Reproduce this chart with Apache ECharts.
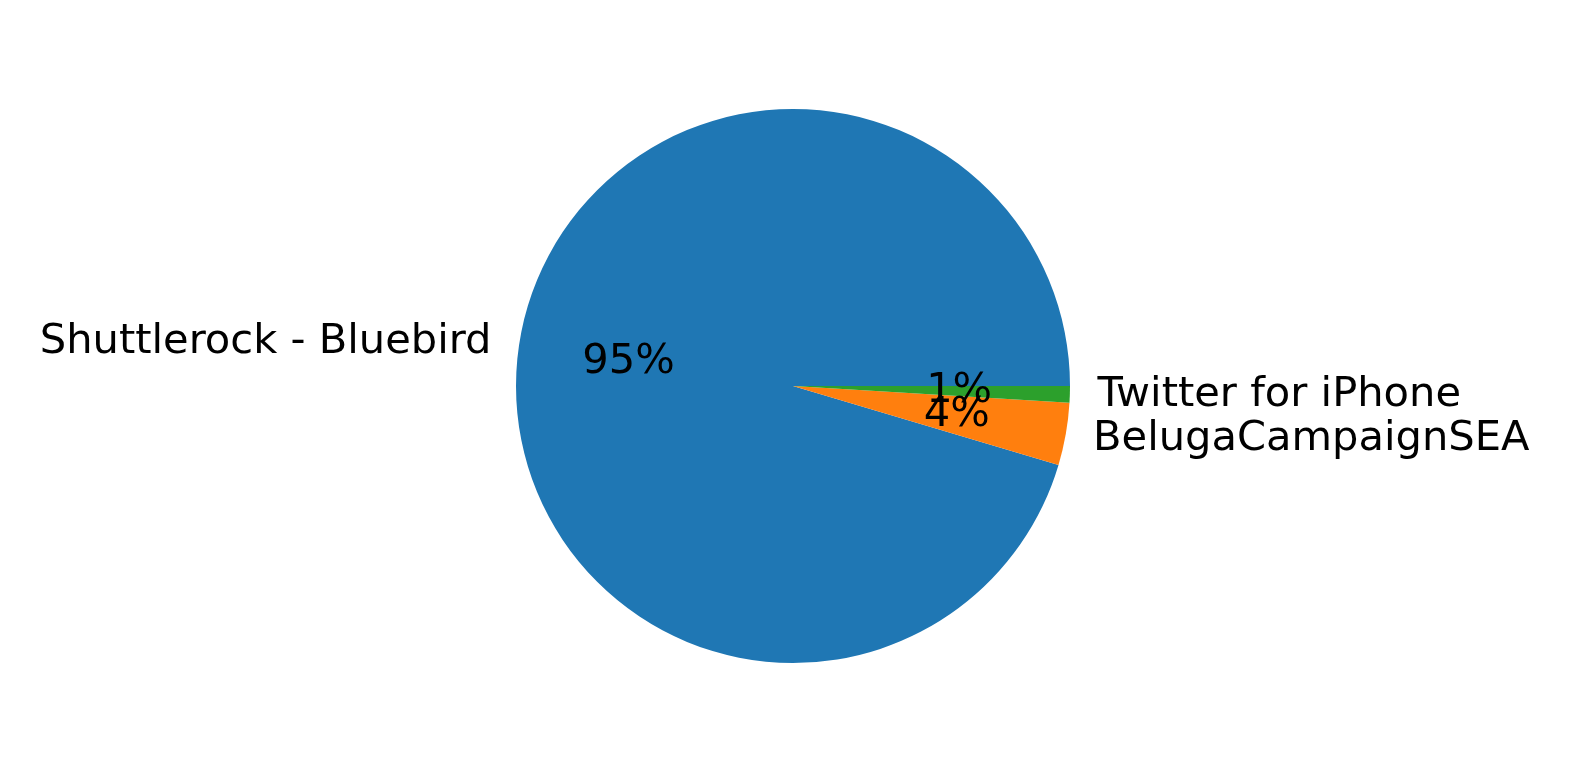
<!DOCTYPE html>
<html>
<head>
<meta charset="utf-8">
<script src="https://cdn.jsdelivr.net/npm/echarts@6/dist/echarts.min.js"></script>
<style>html,body{margin:0;padding:0;background:#fff}#c{width:1570px;height:773px}</style>
</head>
<body>
<div id="c"></div>
<script>
const categories = ['Shuttlerock - Bluebird', 'BelugaCampaignSEA', 'Twitter for iPhone'];
const values = [394, 15, 4];
const colors = ['#1f77b4', '#ff7f0e', '#2ca02c'];

const CX = 793, CY = 386, R = 277;
const FONT = 'DejaVu Sans';
const FS = 41.6;

const chart = echarts.init(document.getElementById('c'));
const total = values.reduce((a, b) => a + b, 0);
const data = categories.map((n, i) => ({ name: n, value: values[i], itemStyle: { color: colors[i] } }));

// percent labels placed at 0.6 radius, at each slice's middle (polar scatter)
let acc = 0;
const pctPoints = values.map((v) => {
  const mid = acc + v / 2;
  acc += v;
  return { value: [0.6, mid], pct: Math.round(v / total * 100) + '%' };
});

chart.setOption({
  animation: false,
  backgroundColor: '#ffffff',
  polar: { center: [CX, CY], radius: R },
  angleAxis: {
    type: 'value', min: 0, max: total, startAngle: 0, clockwise: false,
    show: false, axisLine: { show: false }, splitLine: { show: false }, axisTick: { show: false }, axisLabel: { show: false }
  },
  radiusAxis: {
    type: 'value', min: 0, max: 1,
    show: false, axisLine: { show: false }, splitLine: { show: false }, axisTick: { show: false }, axisLabel: { show: false }
  },
  series: [
    {
      type: 'pie',
      center: [CX, CY],
      radius: [0, R],
      startAngle: 0,
      clockwise: false,
      avoidLabelOverlap: false,
      silent: true,
      data: data,
      itemStyle: { borderWidth: 0 },
      label: {
        show: true,
        position: 'outside',
        formatter: '{b}',
        fontFamily: FONT,
        fontSize: FS,
        color: '#000',
        distanceToLabelLine: 0
      },
      labelLine: { show: false, length: R * 0.1, length2: 0 },
      emphasis: { disabled: true }
    },
    {
      type: 'scatter',
      coordinateSystem: 'polar',
      silent: true,
      z: 10,
      symbolSize: 1,
      itemStyle: { color: 'rgba(0,0,0,0)', opacity: 1 },
      data: pctPoints,
      label: {
        show: true,
        position: 'inside',
        formatter: p => p.data.pct,
        fontFamily: FONT,
        fontSize: FS,
        color: '#000',
        opacity: 1
      },
      emphasis: { disabled: true }
    }
  ]
});
</script>
</body>
</html>
